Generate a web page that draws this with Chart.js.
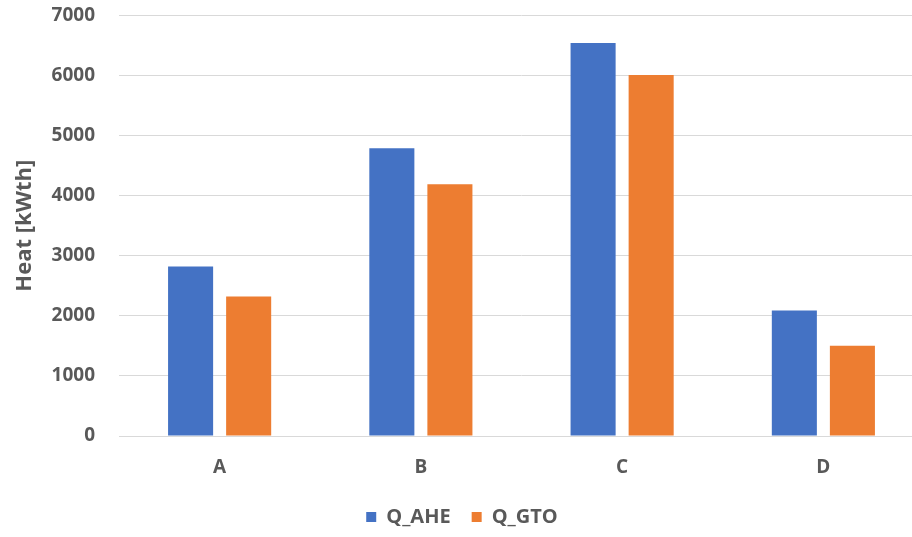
<!DOCTYPE html>
<html>
<head>
<meta charset="utf-8">
<script src="https://cdn.jsdelivr.net/npm/chart.js@4"></script>
<style>
  html, body { margin: 0; padding: 0; background: #fff; overflow: hidden; }
  .frame { position: relative; width: 912px; height: 537px; overflow: hidden; }
  /* plot area runs a little past the right edge, as in the source picture */
  .chart-container { position: absolute; left: 0; top: -20px; width: 924px; height: 557px; }
</style>
</head>
<body>
<div class="frame"><div class="chart-container"><canvas id="heatChart"></canvas></div></div>
<script>
/* ---- Data ---- */
const categories = ['A', 'B', 'C', 'D'];
const qAhe = [2820, 4790, 6540, 2090];
const qGto = [2320, 4190, 6010, 1500];
const yTicks = [0, 1000, 2000, 3000, 4000, 5000, 6000, 7000];

const TEXT = '#595959';
const GRID = '#d9d9d9';
const FONT = "'Open Sans', 'Noto Sans', sans-serif";

new Chart(document.getElementById('heatChart'), {
  type: 'bar',
  data: {
    labels: categories,
    datasets: [
      { label: 'Q_AHE', data: qAhe, backgroundColor: '#4472C4' },
      { label: 'Q_GTO', data: qGto, backgroundColor: '#ED7D31' },
    ],
  },
  options: {
    responsive: true,
    maintainAspectRatio: false,
    animation: false,
    datasets: { bar: { categoryPercentage: 0.577, barPercentage: 0.776 } },
    layout: { padding: { top: 4, right: 0, bottom: 0, left: 0 } },
    plugins: {
      tooltip: { enabled: false },
      legend: {
        position: 'bottom',
        labels: {
          color: TEXT,
          font: { family: FONT, size: 20, weight: 'bold' },
          boxWidth: 10,
          boxHeight: 10,
          padding: 21,
        },
      },
    },
    scales: {
      x: {
        grid: { display: false },
        border: { display: true, color: GRID, width: 1 },
        ticks: { color: TEXT, font: { family: FONT, size: 19, weight: 'bold' }, padding: 12 },
        afterFit: (s) => { s.height = 50; },
      },
      y: {
        min: 0,
        max: 7000,
        afterBuildTicks: (s) => { s.ticks = yTicks.map((v) => ({ value: v })); },
        grid: { color: GRID, lineWidth: 1, drawTicks: false },
        border: { display: false },
        ticks: {
          color: TEXT,
          font: { family: FONT, size: 19, weight: 'bold' },
          padding: 24,
          callback: (v) => String(v),
        },
        title: {
          display: true,
          text: 'Heat [kWth]',
          color: TEXT,
          font: { family: FONT, size: 22, weight: 'bold' },
          padding: { top: 12, bottom: 0 },
        },
        afterFit: (s) => { s.width = 119; },
      },
    },
  },
});
</script>
</body>
</html>
